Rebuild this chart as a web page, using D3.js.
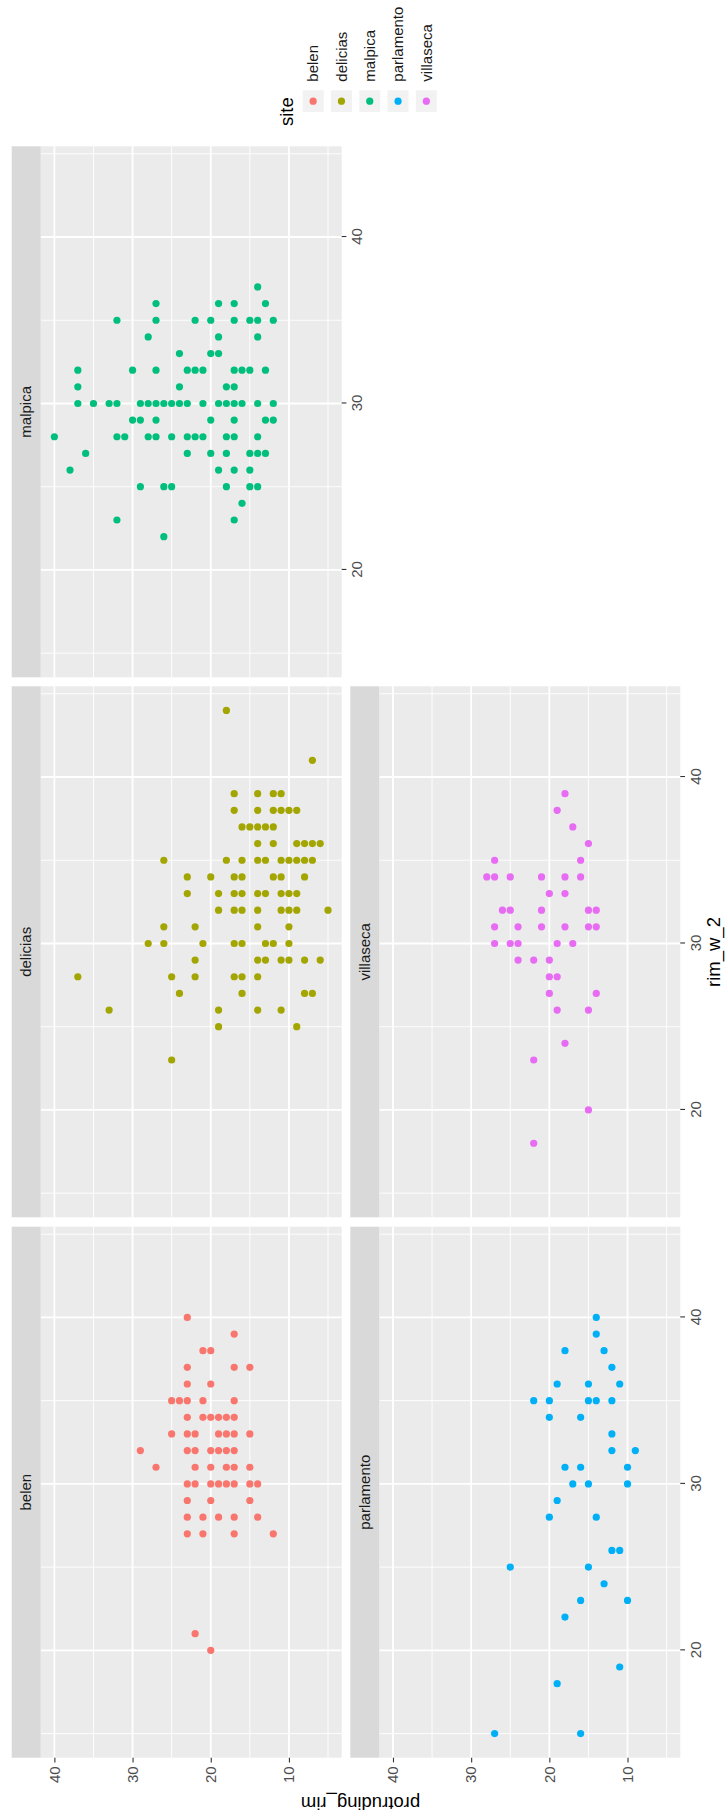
<!DOCTYPE html>
<html>
<head>
<meta charset="utf-8">
<script src="https://cdn.jsdelivr.net/npm/d3@7"></script>
<style>
body { margin: 0; background: #fff; }
text { font-family: "Liberation Sans", Arial, sans-serif; }
</style>
</head>
<body>
<div id="chart"></div>
<script>
var sites = ["belen", "delicias", "malpica", "parlamento", "villaseca"];
var siteColors = ["#F8766D", "#A3A500", "#00BF7D", "#00B0F6", "#E76BF3"];
var xTicks = [20, 30, 40];
var yTicks = [10, 20, 30, 40];
var xMinor = [15, 25, 35, 45];
var yMinor = [5, 15, 25, 35];

// one row per rim_w_2 value: [rim_w_2, protruding_rim, protruding_rim, ...]
var belen = [[40,23],[39,17],[38,21,20],[37,23,17,15],[36,23,20],[35,25,24,23,21,17],
  [34,23,21,20,19,18,17],[33,25,23,22,19,18,17,15],[32,29,23,22,20,19,18,17],
  [31,27,22,20,18,17,15],[30,23,22,20,19,18,17,15,14],[29,23,20,15],[28,23,21,19,17,14],
  [27,23,21,17,12],[21,22],[20,20]];
var delicias = [[44,18],[41,7],[39,17,14,12,11],[38,17,14,12,11,10,9],[37,16,15,14,13,12],
  [36,14,12,9,8,7,6],[35,26,18,16,14,13,11,10,9,8,7],[34,23,20,17,16,12,11,8],
  [33,23,19,17,16,14,13,11,10,9],[32,19,17,16,14,11,10,9,5],[31,26,22,14,10],
  [30,28,26,21,17,16,13,12,10],[29,22,14,13,11,10,8,6],[28,37,25,22,17,16,14],
  [27,24,16,8,7],[26,33,19,14,11],[25,19,9],[23,25]];
var malpica = [[37,14],[36,27,19,17,13],[35,32,27,22,20,17,15,14,12],[34,28,19,14],[33,24,20,19],
  [32,37,30,27,23,22,21,17,16,15,13],[31,37,24,18,17],
  [30,37,35,33,32,29,28,27,26,25,24,23,21,19,18,17,16,14,12],[29,30,29,27,20,17,13,12],
  [28,40,32,31,28,27,25,23,22,21,18,17,14],[27,36,23,20,18,15,14,13],[26,38,19,17,15],
  [25,29,26,25,18,15,14],[24,16],[23,32,17],[22,26]];
var parlamento = [[40,14],[39,14],[38,18,13],[37,12],[36,19,15,11],[35,22,20,15,14,12],[34,20,16],
  [33,12],[32,12,9],[31,18,16,10],[30,17,15,10],[29,19],[28,20,14],[26,12,11],[25,25,15],
  [24,13],[23,16,10],[22,18],[19,11],[18,19],[15,27,16]];
var villaseca = [[39,18],[38,19],[37,17],[36,15],[35,27,16],[34,28,27,25,21,18,16],[33,20,18],
  [32,26,25,21,15,14],[31,27,24,21,18,15,14],[30,27,25,24,19,17],[29,24,22,20],[28,20,19],
  [27,20,14],[26,19,15],[24,18],[23,22],[20,15],[18,22]];

var siteRows = [belen, delicias, malpica, parlamento, villaseca];

var W = 727, H = 1818;
// the plot is laid out landscape (H wide, W tall) then turned a quarter turn
var panelW = 531, panelH = 301, stripH = 29;
var colLeft = [60.3, 600.7, 1140.7];
var rowTop = [40.7, 379.3];
var tickLen = 4.7;

var x = d3.scaleLinear().domain([13.55, 45.45]).range([0, panelW]);
var y = d3.scaleLinear().domain([3.25, 41.75]).range([panelH, 0]);

var toPoints = function (rows) {
    var pts = [];
    rows.forEach(function (r) {
        for (var k = 1; k < r.length; k++) pts.push({ rim: r[0], prot: r[k] });
    });
    return pts;
};

var svg = d3.select("#chart").append("svg")
    .attr("width", W)
    .attr("height", H);
svg.append("rect").attr("width", W).attr("height", H).attr("fill", "#fff");

var plot = svg.append("g")
    .attr("transform", "translate(0," + H + ") rotate(-90)");

var styleAxis = function (g) {
    g.select(".domain").remove();
    g.selectAll(".tick line").attr("stroke", "#333333").attr("stroke-width", 1.1);
    g.selectAll(".tick text")
        .attr("fill", "#4D4D4D")
        .attr("font-size", 15)
        .style("font-family", "'Liberation Sans', Arial, sans-serif");
};

sites.forEach(function (s, i) {
    var col = i % 3, row = Math.floor(i / 3);
    var g = plot.append("g")
        .attr("transform", "translate(" + colLeft[col] + "," + rowTop[row] + ")");

    g.append("rect")
        .attr("width", panelW)
        .attr("height", panelH)
        .attr("fill", "#EBEBEB");

    // minor grid
    g.selectAll("line.xmin").data(xMinor).enter().append("line")
        .attr("x1", x).attr("x2", x).attr("y1", 0).attr("y2", panelH)
        .attr("stroke", "#fff").attr("stroke-width", 0.9);
    g.selectAll("line.ymin").data(yMinor).enter().append("line")
        .attr("y1", y).attr("y2", y).attr("x1", 0).attr("x2", panelW)
        .attr("stroke", "#fff").attr("stroke-width", 0.9);
    // major grid
    g.selectAll("line.xmaj").data(xTicks).enter().append("line")
        .attr("x1", x).attr("x2", x).attr("y1", 0).attr("y2", panelH)
        .attr("stroke", "#fff").attr("stroke-width", 1.8);
    g.selectAll("line.ymaj").data(yTicks).enter().append("line")
        .attr("y1", y).attr("y2", y).attr("x1", 0).attr("x2", panelW)
        .attr("stroke", "#fff").attr("stroke-width", 1.8);

    // strip
    g.append("rect")
        .attr("y", -stripH)
        .attr("width", panelW)
        .attr("height", stripH)
        .attr("fill", "#D9D9D9");
    g.append("text")
        .attr("x", panelW / 2)
        .attr("y", -stripH / 2)
        .attr("dy", "0.35em")
        .attr("text-anchor", "middle")
        .attr("font-size", 15)
        .attr("fill", "#1A1A1A")
        .text(s);

    // points
    g.selectAll("circle").data(toPoints(siteRows[i])).enter().append("circle")
        .attr("cx", function (d) { return x(d.rim); })
        .attr("cy", function (d) { return y(d.prot); })
        .attr("r", 3.6)
        .attr("fill", siteColors[i]);

    // x axis under the lowest panel of each column
    if (row === 1 || col === 2) {
        g.append("g")
            .attr("transform", "translate(0," + panelH + ")")
            .call(d3.axisBottom(x).tickValues(xTicks).tickSize(tickLen).tickPadding(5))
            .call(styleAxis);
    }
    // y axis on the first column
    if (col === 0) {
        g.append("g")
            .call(d3.axisLeft(y).tickValues(yTicks).tickSize(tickLen).tickPadding(4))
            .call(styleAxis);
    }
});

// axis titles
plot.append("text")
    .attr("x", (colLeft[0] + colLeft[2] + panelW) / 2)
    .attr("y", 720)
    .attr("text-anchor", "middle")
    .attr("font-size", 18.5)
    .attr("fill", "#000")
    .text("rim_w_2");

plot.append("text")
    .attr("transform", "translate(21," + (rowTop[0] + rowTop[1] + panelH) / 2 + ") rotate(-90)")
    .attr("text-anchor", "middle")
    .attr("font-size", 18.5)
    .attr("fill", "#000")
    .text("protruding_rim");

// legend
var legend = plot.append("g").attr("transform", "translate(1706,0)");
legend.append("text")
    .attr("x", -14)
    .attr("y", 293)
    .attr("font-size", 18.5)
    .attr("fill", "#000")
    .text("site");

var keyY = d3.scaleBand().domain(sites).range([299, 440.5]);
var keys = legend.selectAll("g.key").data(sites).enter().append("g")
    .attr("transform", function (d) {
        return "translate(0," + (keyY(d) + keyY.bandwidth() / 2) + ")";
    });
keys.append("rect")
    .attr("x", 0)
    .attr("y", -10.5)
    .attr("width", 21.7)
    .attr("height", 21)
    .attr("fill", "#F2F2F2");
keys.append("circle")
    .attr("cx", 10.85)
    .attr("cy", 0)
    .attr("r", 3.6)
    .attr("fill", function (d, i) { return siteColors[i]; });
keys.append("text")
    .attr("x", 30.3)
    .attr("dy", "0.35em")
    .attr("font-size", 15)
    .attr("fill", "#1A1A1A")
    .text(function (d) { return d; });
</script>
</body>
</html>
